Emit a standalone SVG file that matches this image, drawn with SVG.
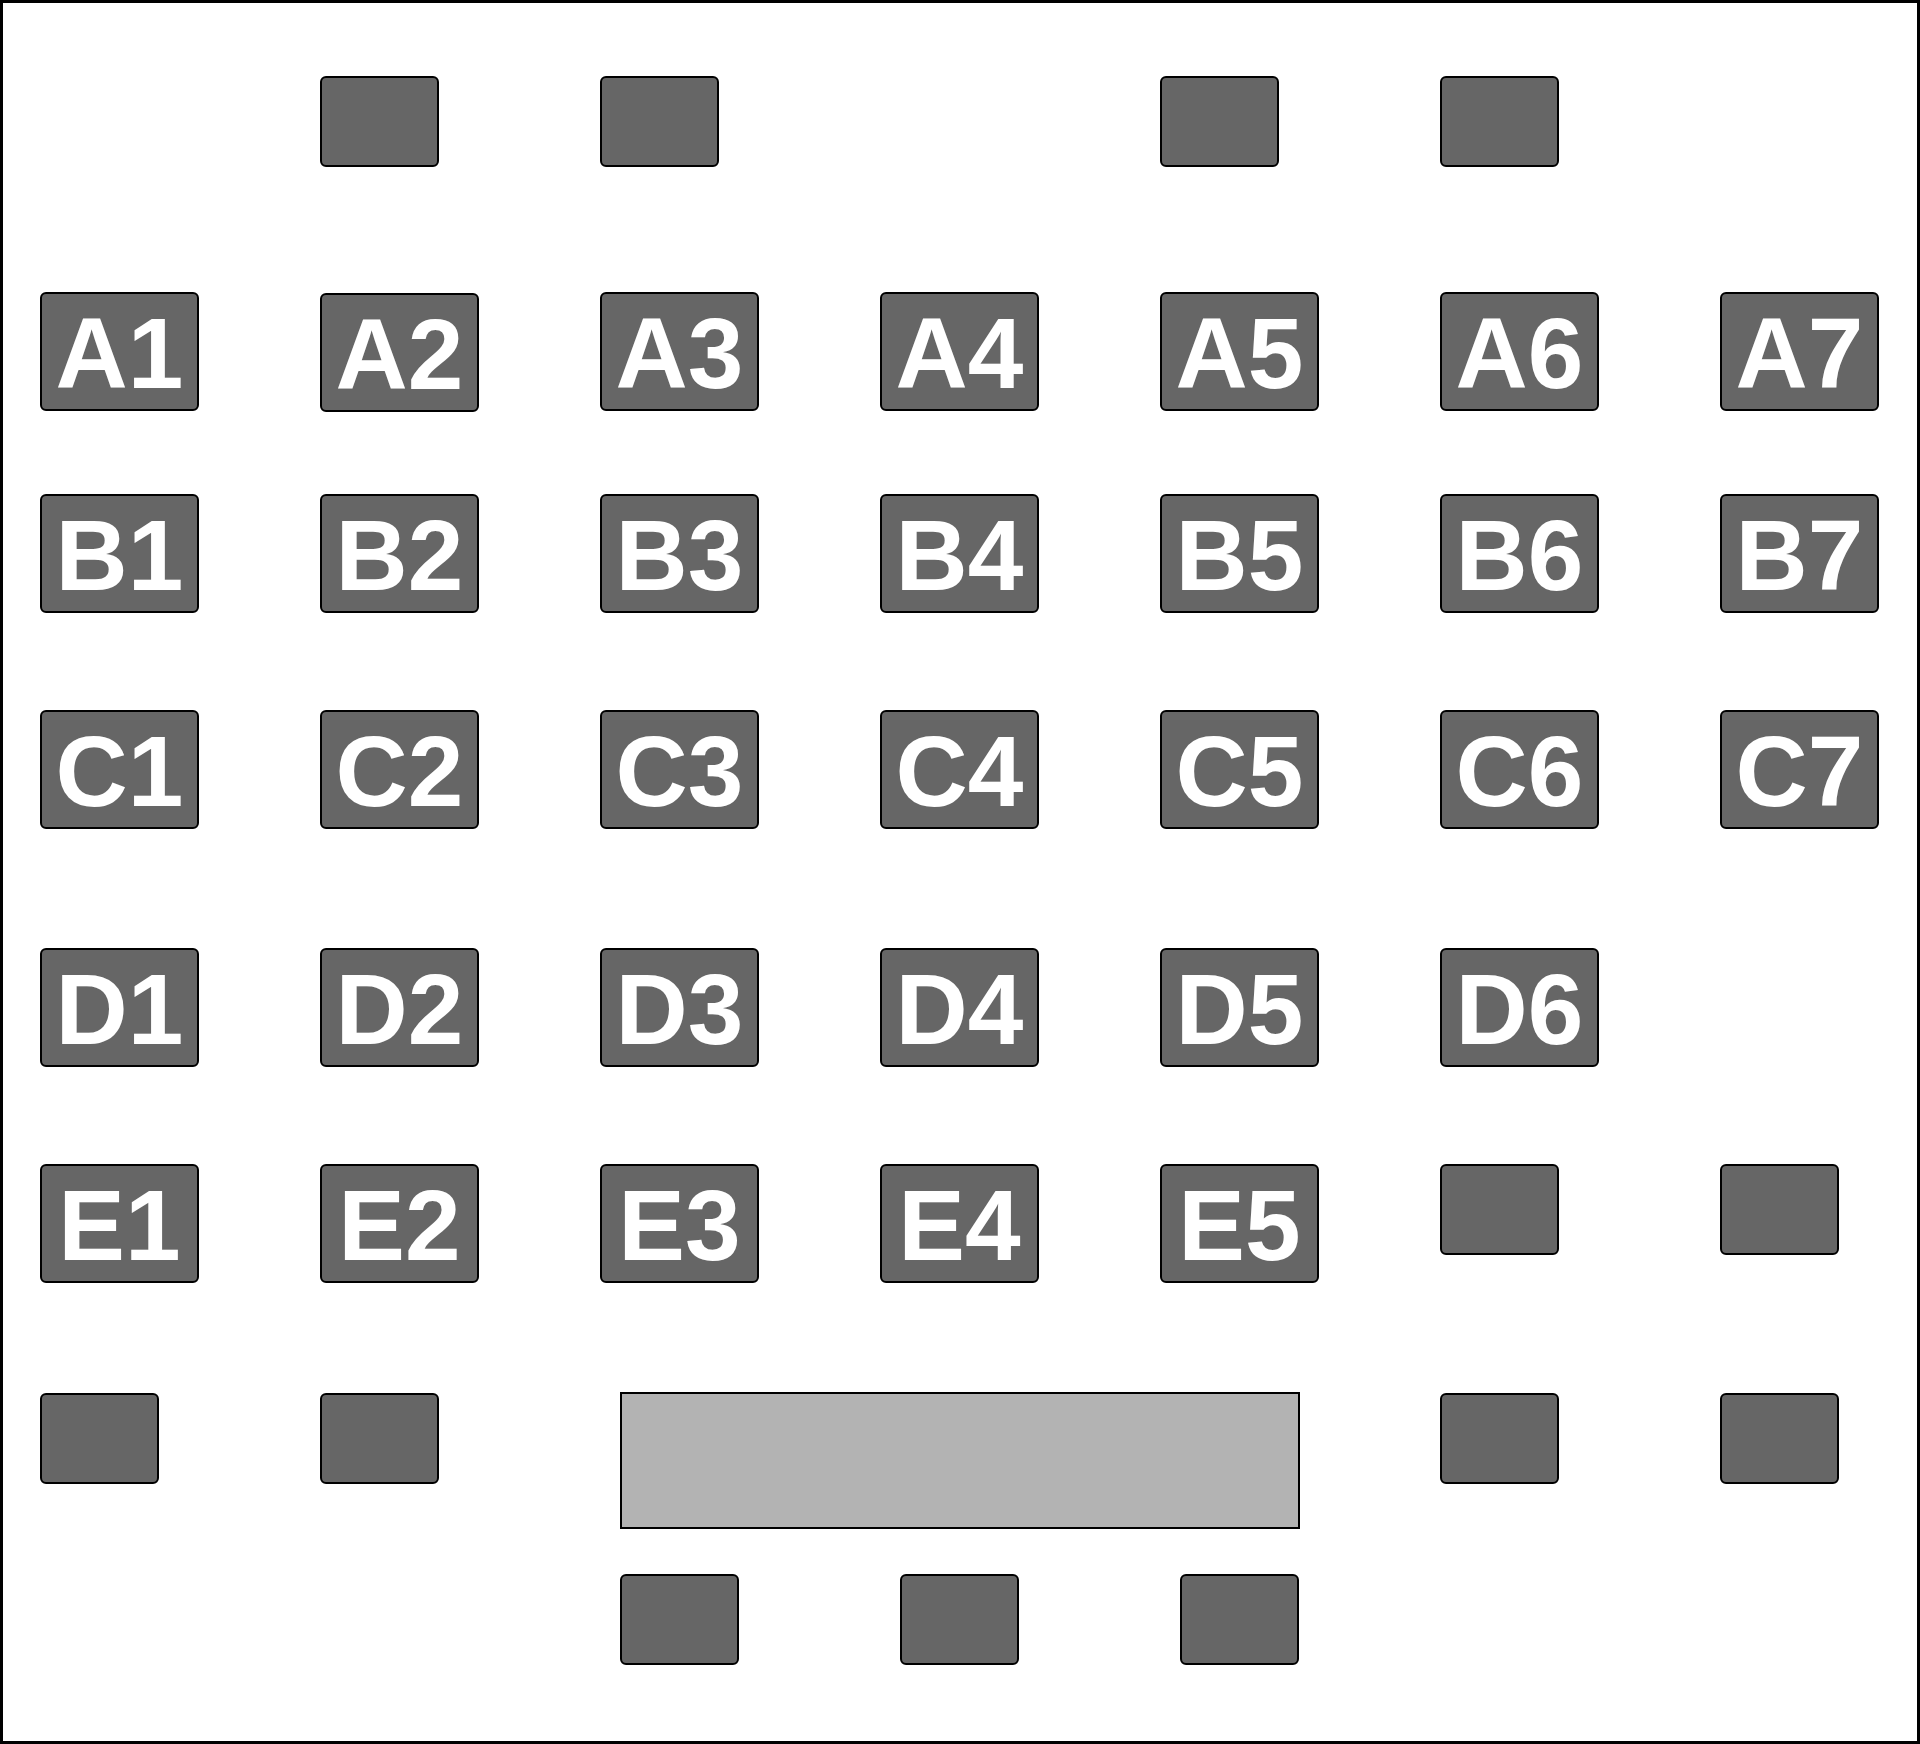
<svg xmlns="http://www.w3.org/2000/svg" width="1920" height="1744" viewBox="0 0 1920 1744">
<style>
.n{fill:#666666;stroke:#000;stroke-width:2}
.s{fill:#666666;stroke:#000;stroke-width:2}
.t{fill:#fff;font-family:"Liberation Sans",Arial,sans-serif;font-weight:bold;font-size:100px;text-anchor:middle}
.big{fill:#b3b3b3;stroke:#000;stroke-width:2}
</style>
<rect x="1.5" y="1.5" width="1917" height="1741" fill="#fff" stroke="#000" stroke-width="3"/>
<g id="top-boxes">
<g id="t1"><rect class="s" x="321" y="77" width="117" height="89" rx="5"/></g>
<g id="t2"><rect class="s" x="601" y="77" width="117" height="89" rx="5"/></g>
<g id="t3"><rect class="s" x="1161" y="77" width="117" height="89" rx="5"/></g>
<g id="t4"><rect class="s" x="1441" y="77" width="117" height="89" rx="5"/></g>
</g>
<g id="A1"><rect class="n" x="41" y="293" width="157" height="117" rx="5"/><text class="t" x="119.5" y="388">A1</text></g>
<g id="A2"><rect class="n" x="321" y="294" width="157" height="117" rx="5"/><text class="t" x="399.5" y="389">A2</text></g>
<g id="A3"><rect class="n" x="601" y="293" width="157" height="117" rx="5"/><text class="t" x="679.5" y="388">A3</text></g>
<g id="A4"><rect class="n" x="881" y="293" width="157" height="117" rx="5"/><text class="t" x="959.5" y="388">A4</text></g>
<g id="A5"><rect class="n" x="1161" y="293" width="157" height="117" rx="5"/><text class="t" x="1239.5" y="388">A5</text></g>
<g id="A6"><rect class="n" x="1441" y="293" width="157" height="117" rx="5"/><text class="t" x="1519.5" y="388">A6</text></g>
<g id="A7"><rect class="n" x="1721" y="293" width="157" height="117" rx="5"/><text class="t" x="1799.5" y="388">A7</text></g>
<g id="B1"><rect class="n" x="41" y="495" width="157" height="117" rx="5"/><text class="t" x="119.5" y="590">B1</text></g>
<g id="B2"><rect class="n" x="321" y="495" width="157" height="117" rx="5"/><text class="t" x="399.5" y="590">B2</text></g>
<g id="B3"><rect class="n" x="601" y="495" width="157" height="117" rx="5"/><text class="t" x="679.5" y="590">B3</text></g>
<g id="B4"><rect class="n" x="881" y="495" width="157" height="117" rx="5"/><text class="t" x="959.5" y="590">B4</text></g>
<g id="B5"><rect class="n" x="1161" y="495" width="157" height="117" rx="5"/><text class="t" x="1239.5" y="590">B5</text></g>
<g id="B6"><rect class="n" x="1441" y="495" width="157" height="117" rx="5"/><text class="t" x="1519.5" y="590">B6</text></g>
<g id="B7"><rect class="n" x="1721" y="495" width="157" height="117" rx="5"/><text class="t" x="1799.5" y="590">B7</text></g>
<g id="C1"><rect class="n" x="41" y="711" width="157" height="117" rx="5"/><text class="t" x="119.5" y="806">C1</text></g>
<g id="C2"><rect class="n" x="321" y="711" width="157" height="117" rx="5"/><text class="t" x="399.5" y="806">C2</text></g>
<g id="C3"><rect class="n" x="601" y="711" width="157" height="117" rx="5"/><text class="t" x="679.5" y="806">C3</text></g>
<g id="C4"><rect class="n" x="881" y="711" width="157" height="117" rx="5"/><text class="t" x="959.5" y="806">C4</text></g>
<g id="C5"><rect class="n" x="1161" y="711" width="157" height="117" rx="5"/><text class="t" x="1239.5" y="806">C5</text></g>
<g id="C6"><rect class="n" x="1441" y="711" width="157" height="117" rx="5"/><text class="t" x="1519.5" y="806">C6</text></g>
<g id="C7"><rect class="n" x="1721" y="711" width="157" height="117" rx="5"/><text class="t" x="1799.5" y="806">C7</text></g>
<g id="D1"><rect class="n" x="41" y="949" width="157" height="117" rx="5"/><text class="t" x="119.5" y="1044">D1</text></g>
<g id="D2"><rect class="n" x="321" y="949" width="157" height="117" rx="5"/><text class="t" x="399.5" y="1044">D2</text></g>
<g id="D3"><rect class="n" x="601" y="949" width="157" height="117" rx="5"/><text class="t" x="679.5" y="1044">D3</text></g>
<g id="D4"><rect class="n" x="881" y="949" width="157" height="117" rx="5"/><text class="t" x="959.5" y="1044">D4</text></g>
<g id="D5"><rect class="n" x="1161" y="949" width="157" height="117" rx="5"/><text class="t" x="1239.5" y="1044">D5</text></g>
<g id="D6"><rect class="n" x="1441" y="949" width="157" height="117" rx="5"/><text class="t" x="1519.5" y="1044">D6</text></g>
<g id="E1"><rect class="n" x="41" y="1165" width="157" height="117" rx="5"/><text class="t" x="119.5" y="1260">E1</text></g>
<g id="E2"><rect class="n" x="321" y="1165" width="157" height="117" rx="5"/><text class="t" x="399.5" y="1260">E2</text></g>
<g id="E3"><rect class="n" x="601" y="1165" width="157" height="117" rx="5"/><text class="t" x="679.5" y="1260">E3</text></g>
<g id="E4"><rect class="n" x="881" y="1165" width="157" height="117" rx="5"/><text class="t" x="959.5" y="1260">E4</text></g>
<g id="E5"><rect class="n" x="1161" y="1165" width="157" height="117" rx="5"/><text class="t" x="1239.5" y="1260">E5</text></g>
<g id="e6"><rect class="s" x="1441" y="1165" width="117" height="89" rx="5"/></g>
<g id="e7"><rect class="s" x="1721" y="1165" width="117" height="89" rx="5"/></g>
<g id="f1"><rect class="s" x="41" y="1394" width="117" height="89" rx="5"/></g>
<g id="f2"><rect class="s" x="321" y="1394" width="117" height="89" rx="5"/></g>
<g id="table"><rect class="big" x="621" y="1393" width="678" height="135"/></g>
<g id="f6"><rect class="s" x="1441" y="1394" width="117" height="89" rx="5"/></g>
<g id="f7"><rect class="s" x="1721" y="1394" width="117" height="89" rx="5"/></g>
<g id="g1"><rect class="s" x="621" y="1575" width="117" height="89" rx="5"/></g>
<g id="g2"><rect class="s" x="901" y="1575" width="117" height="89" rx="5"/></g>
<g id="g3"><rect class="s" x="1181" y="1575" width="117" height="89" rx="5"/></g>
<g id="connectors"></g>
</svg>
